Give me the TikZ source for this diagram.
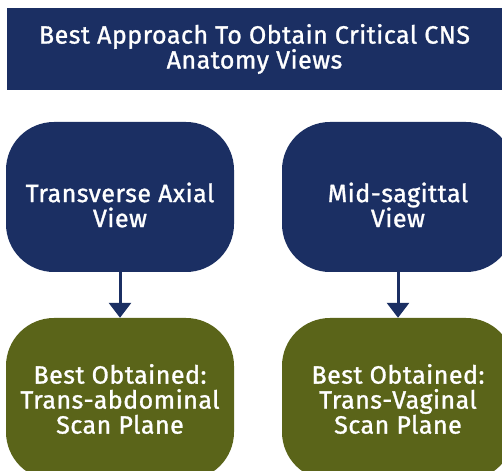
\documentclass[tikz,border=0pt]{standalone}
\usepackage{fontspec}
\setmainfont{Fira Sans}[FakeBold=1.2,LetterSpace=2]
\usepackage{xcolor}
\usetikzlibrary{arrows.meta}
\definecolor{navy}{HTML}{1B2F63}
\definecolor{olivegreen}{HTML}{5A6419}

\begin{document}
\begin{tikzpicture}[x=1pt,y=1pt]
            \tikzstyle{every node}=[text=white, align=center, inner sep=0pt, font=\fontsize{25}{25}\selectfont]
            \tikzstyle{view}=[fill=navy, rounded corners=48pt, minimum width=228pt, minimum height=150pt]
            \tikzstyle{plane}=[fill=olivegreen, rounded corners=48pt, minimum width=228pt, minimum height=162pt]
            \tikzstyle{link}=[draw=navy, line width=3pt, -{Triangle[width=22pt,length=15pt]}]
            \useasboundingbox (0,0) rectangle (502,470);
            \clip (0,0) rectangle (502,470);
            \node[fill=navy, minimum width=495pt, minimum height=82pt] (title) at (254.5,421) {Best Approach To Obtain Critical CNS\\Anatomy Views};
            \node[view, label={[yshift=-8pt]center:Transverse Axial\\View}] (axial) at (120,273) {};
            \node[view, minimum width=232pt, label={[yshift=-8pt]center:Mid-sagittal\\View}] (sagittal) at (398,273) {};
            \node[plane] (abdominal) at (120,71) {Best Obtained:\\Trans-abdominal\\Scan Plane};
            \node[plane, minimum width=232pt] (vaginal) at (398,71) {Best Obtained:\\Trans-Vaginal\\Scan Plane};
            \draw[link] (axial)--(abdominal);
            \draw[link] (sagittal)--(vaginal);
        \end{tikzpicture}
\end{document}
